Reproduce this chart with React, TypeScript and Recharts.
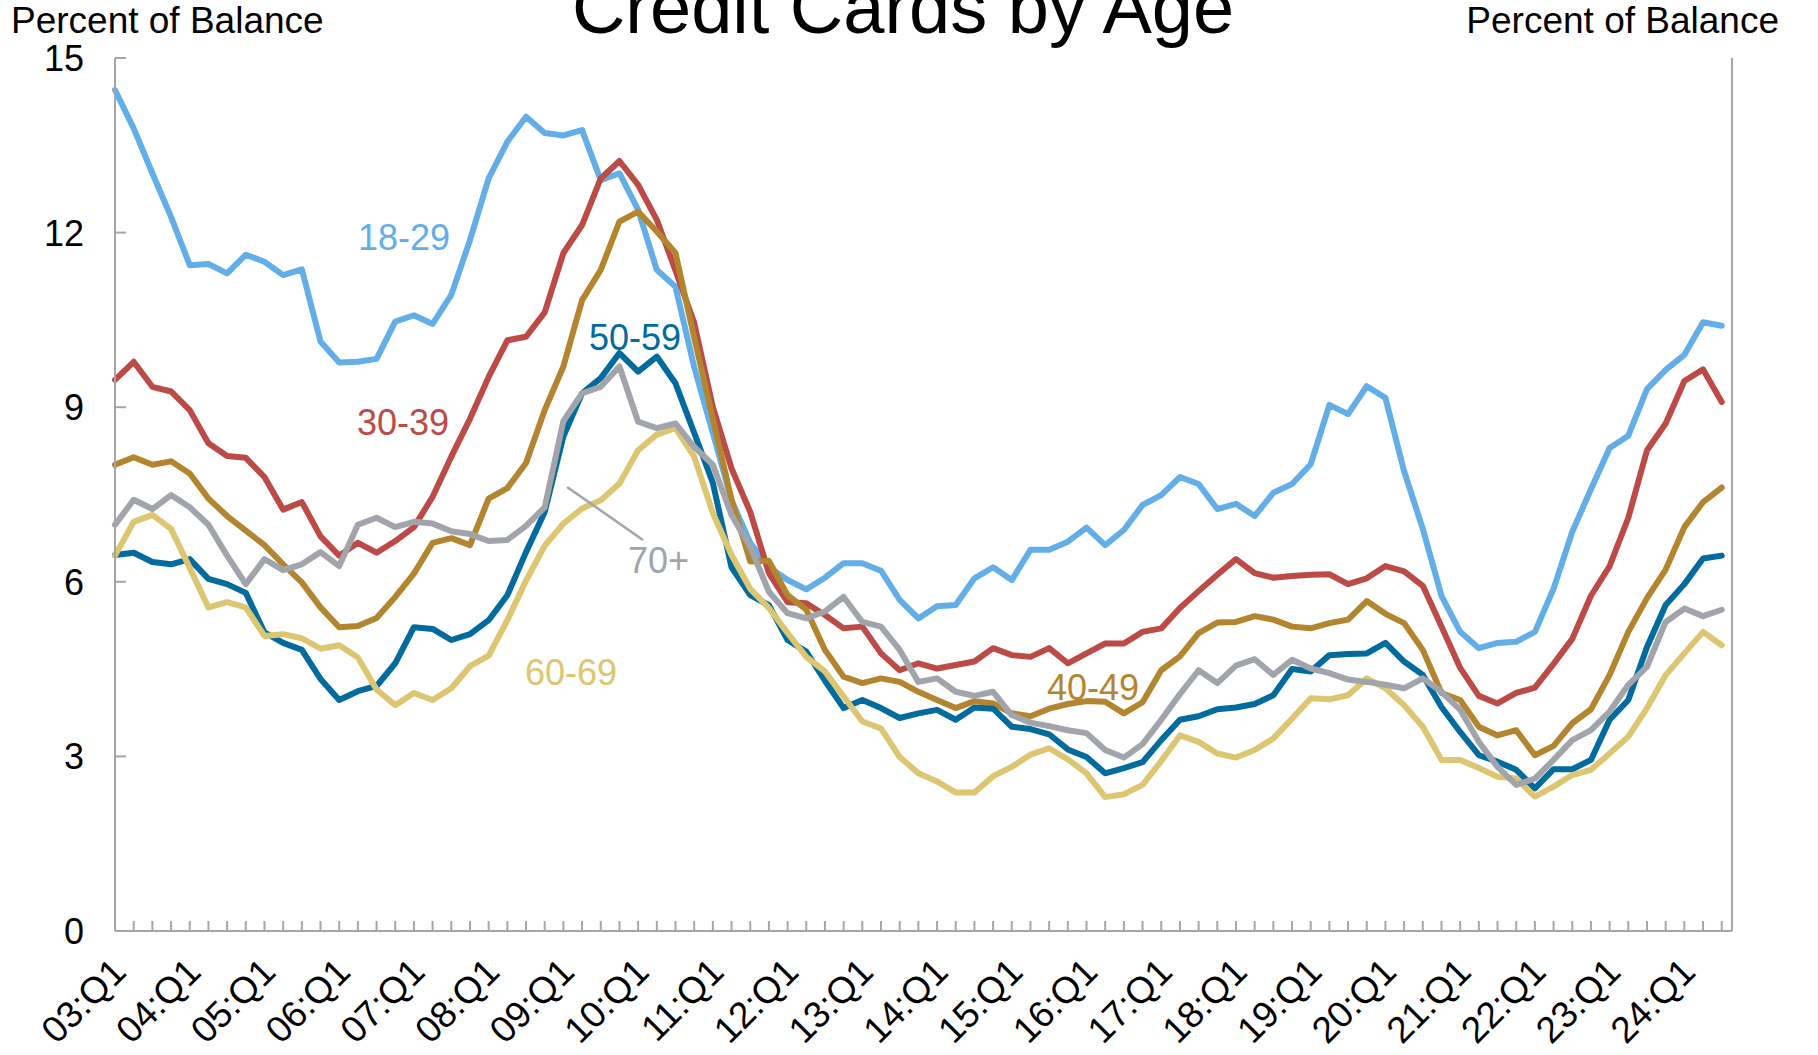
import React from 'react';
import { LineChart, Line, XAxis, YAxis } from 'recharts';

// quarterly, 03:Q1 .. 24:Q3
const tickLabels = [
    '03:Q1', '04:Q1', '05:Q1', '06:Q1', '07:Q1', '08:Q1', '09:Q1', '10:Q1',
    '11:Q1', '12:Q1', '13:Q1', '14:Q1', '15:Q1', '16:Q1', '17:Q1', '18:Q1',
    '19:Q1', '20:Q1', '21:Q1', '22:Q1', '23:Q1', '24:Q1',
];

const age1829 = [
    14.45, 13.79, 13.02, 12.27, 11.44, 11.46, 11.3, 11.62, 11.5, 11.27,
    11.37, 10.13, 9.77, 9.78, 9.83, 10.47, 10.58, 10.43, 10.93, 11.87,
    12.93, 13.56, 13.99, 13.71, 13.67, 13.76, 12.9, 13.02, 12.39, 11.36,
    11.07, 9.69, 8.56, 7.4, 6.67, 6.25, 6.03, 5.87, 6.07, 6.32,
    6.32, 6.19, 5.69, 5.37, 5.58, 5.6, 6.06, 6.25, 6.03, 6.55,
    6.55, 6.69, 6.93, 6.63, 6.89, 7.32, 7.49, 7.8, 7.68, 7.25,
    7.34, 7.13, 7.53, 7.68, 8.02, 9.04, 8.88, 9.36, 9.16, 7.9,
    6.91, 5.76, 5.14, 4.86, 4.95, 4.97, 5.14, 5.88, 6.86, 7.59,
    8.3, 8.51, 9.31, 9.64, 9.9, 10.46, 10.4,
];

const age3039 = [
    9.47, 9.78, 9.35, 9.27, 8.95, 8.38, 8.16, 8.13, 7.8, 7.24,
    7.37, 6.78, 6.45, 6.67, 6.5, 6.7, 6.94, 7.46, 8.15, 8.8,
    9.52, 10.15, 10.21, 10.63, 11.65, 12.13, 12.93, 13.23, 12.82, 12.22,
    11.35, 10.45, 9.0, 7.95, 7.2, 6.15, 5.65, 5.63, 5.43, 5.2,
    5.23, 4.77, 4.48, 4.6, 4.51, 4.57, 4.63, 4.86, 4.74, 4.71,
    4.86, 4.6, 4.77, 4.94, 4.94, 5.14, 5.2, 5.55, 5.84, 6.12,
    6.39, 6.15, 6.07, 6.1, 6.12, 6.13, 5.96, 6.06, 6.27, 6.18,
    5.93, 5.23, 4.52, 4.04, 3.91, 4.09, 4.18, 4.59, 5.02, 5.76,
    6.27, 7.1, 8.26, 8.72, 9.45, 9.65, 9.09,
];

const age4049 = [
    8.01, 8.14, 8.01, 8.07, 7.86, 7.43, 7.13, 6.88, 6.63, 6.3,
    5.99, 5.56, 5.22, 5.24, 5.38, 5.74, 6.14, 6.67, 6.75, 6.63,
    7.43, 7.61, 8.04, 8.95, 9.7, 10.84, 11.36, 12.19, 12.36, 12.02,
    11.65, 10.2, 8.8, 7.41, 6.35, 6.36, 5.77, 5.52, 4.83, 4.37,
    4.26, 4.34, 4.28, 4.11, 3.97, 3.83, 3.95, 3.91, 3.74, 3.69,
    3.82, 3.9, 3.95, 3.94, 3.74, 3.93, 4.48, 4.72, 5.12, 5.3,
    5.31, 5.41, 5.35, 5.23, 5.2, 5.29, 5.35, 5.67, 5.45, 5.29,
    4.83, 4.09, 3.97, 3.51, 3.36, 3.45, 3.02, 3.18, 3.57, 3.81,
    4.4, 5.14, 5.72, 6.21, 6.94, 7.37, 7.62,
];

const age5059 = [
    6.46, 6.5, 6.34, 6.3, 6.39, 6.05, 5.96, 5.81, 5.13, 4.95,
    4.83, 4.33, 3.97, 4.12, 4.21, 4.6, 5.22, 5.19, 5.0, 5.1,
    5.34, 5.77, 6.51, 7.2, 8.5, 9.24, 9.5, 9.93, 9.61, 9.87,
    9.41, 8.56, 7.7, 6.25, 5.77, 5.6, 5.0, 4.8, 4.3, 3.83,
    3.97, 3.83, 3.66, 3.74, 3.8, 3.63, 3.84, 3.82, 3.51, 3.47,
    3.38, 3.12, 2.99, 2.71, 2.8, 2.9, 3.28, 3.63, 3.69, 3.81,
    3.84, 3.9, 4.05, 4.5, 4.46, 4.74, 4.76, 4.77, 4.95, 4.63,
    4.4, 3.85, 3.42, 3.02, 2.91, 2.77, 2.45, 2.78, 2.78, 2.94,
    3.63, 3.97, 4.88, 5.6, 5.96, 6.4, 6.45,
];

const age6069 = [
    6.45, 7.03, 7.15, 6.91, 6.24, 5.56, 5.65, 5.56, 5.07, 5.1,
    5.03, 4.85, 4.91, 4.7, 4.15, 3.88, 4.09, 3.97, 4.17, 4.55,
    4.73, 5.34, 6.02, 6.62, 7.0, 7.26, 7.4, 7.69, 8.26, 8.53,
    8.64, 8.15, 7.18, 6.46, 5.88, 5.55, 5.12, 4.71, 4.46, 4.03,
    3.6, 3.48, 2.99, 2.71, 2.57, 2.38, 2.38, 2.66, 2.82, 3.03,
    3.14, 2.95, 2.71, 2.3, 2.35, 2.51, 2.92, 3.36, 3.25, 3.05,
    2.98, 3.11, 3.31, 3.65, 4.0, 3.98, 4.05, 4.34, 4.17, 3.88,
    3.51, 2.94, 2.94, 2.8, 2.65, 2.62, 2.31, 2.48, 2.68, 2.77,
    3.05, 3.34, 3.83, 4.4, 4.77, 5.14, 4.91,
];

const age70plus = [
    6.98, 7.41, 7.25, 7.49, 7.28, 6.98, 6.45, 5.96, 6.39, 6.2,
    6.3, 6.51, 6.27, 6.98, 7.1, 6.94, 7.03, 7.0, 6.87, 6.82,
    6.7, 6.72, 6.96, 7.28, 8.76, 9.24, 9.35, 9.7, 8.75, 8.64,
    8.72, 8.32, 8.01, 7.15, 6.6, 5.83, 5.46, 5.37, 5.49, 5.74,
    5.31, 5.23, 4.83, 4.28, 4.34, 4.11, 4.04, 4.11, 3.71, 3.58,
    3.52, 3.45, 3.4, 3.11, 2.98, 3.21, 3.63, 4.07, 4.48, 4.26,
    4.56, 4.67, 4.4, 4.66, 4.51, 4.43, 4.32, 4.28, 4.23, 4.17,
    4.34, 4.11, 3.8, 3.25, 2.82, 2.51, 2.62, 2.94, 3.28, 3.45,
    3.77, 4.23, 4.54, 5.31, 5.54, 5.41, 5.52,
];

const yTicks = [0, 3, 6, 9, 12, 15];

const COLORS = {
    a1829: '#64aee8',
    a3039: '#bc4a46',
    a4049: '#b3852e',
    a5059: '#006b9c',
    a6069: '#ddc672',
    a70: '#a1a4aa',
};

const AXIS = '#a6a6a6';
const FONT = '"Liberation Sans", Arial, Helvetica, sans-serif';

const data = age1829.map((v, i) => ({
    i,
    a1829: v,
    a3039: age3039[i],
    a4049: age4049[i],
    a5059: age5059[i],
    a6069: age6069[i],
    a70: age70plus[i],
}));

const xTicks = data.map((d) => d.i);

const XTick = (props: any) => {
    const { x, y, payload } = props;
    const i = payload.value;
    const label = i % 4 === 0 ? tickLabels[i / 4] : null;
    const ax = x + 13;
    const ay = y + 43;
    return (
        <g>
            {i > 0 && <line x1={x} y1={y} x2={x} y2={y - 10} stroke={AXIS} strokeWidth={2} />}
            {label && (
                <text x={ax} y={ay} transform={`rotate(-45 ${ax} ${ay})`} textAnchor="end"
                    fontSize={37} fontFamily={FONT} fill="#000">
                    {label}
                </text>
            )}
        </g>
    );
};

const YTickLeft = (props: any) => {
    const { x, y, payload } = props;
    return (
        <g>
            {payload.value > 0 && <line x1={x} y1={y} x2={x + 11} y2={y} stroke={AXIS} strokeWidth={2} />}
            <text x={x - 31} y={y} dy="0.36em" textAnchor="end" fontSize={36} fontFamily={FONT} fill="#000">
                {payload.value}
            </text>
        </g>
    );
};

const YTickRight = (props: any) => {
    const { x, y, payload } = props;
    return (
        <g>
            {payload.value > 0 && <line x1={x} y1={y} x2={x - 11} y2={y} stroke={AXIS} strokeWidth={2} />}
            <text x={x + 25} y={y} dy="0.36em" textAnchor="start" fontSize={36} fontFamily={FONT} fill="#000">
                {payload.value}
            </text>
        </g>
    );
};

const seriesLabels = [
    { text: '18-29', x: 358, y: 250, color: COLORS.a1829 },
    { text: '30-39', x: 357, y: 435, color: COLORS.a3039 },
    { text: '50-59', x: 589, y: 350, color: COLORS.a5059 },
    { text: '70+', x: 628, y: 573, color: COLORS.a70 },
    { text: '60-69', x: 525, y: 685, color: COLORS.a6069 },
    { text: '40-49', x: 1047, y: 700, color: COLORS.a4049 },
];

export default function App() {
    const axisLine = { stroke: AXIS, strokeWidth: 2 };
    const lineProps = {
        yAxisId: 'left',
        type: 'linear' as const,
        strokeWidth: 6,
        dot: false,
        isAnimationActive: false,
        strokeLinejoin: 'round' as const,
        strokeLinecap: 'round' as const,
    };
    return (
        <div style={{ position: 'absolute', left: 0, top: 0, width: 1818, height: 1055, background: '#fff', overflow: 'hidden' }}>
            <LineChart width={1818} height={1055} data={data}
                margin={{ top: 58, right: 6, bottom: 24, left: 15 }}>
                <XAxis dataKey="i" type="number" domain={[0, 86.55]} ticks={xTicks} interval={0}
                    height={100} tickSize={0} tickMargin={0} tickLine={false} axisLine={axisLine}
                    tick={<XTick />} />
                <XAxis xAxisId="top" dataKey="i" type="number" domain={[0, 86.55]} orientation="top"
                    height={0} tick={false} tickLine={false} axisLine={axisLine} />
                <YAxis yAxisId="left" domain={[0, 15]} ticks={yTicks} interval={0} width={100}
                    tickSize={0} tickMargin={0} tickLine={false} axisLine={axisLine} tick={<YTickLeft />} />
                <YAxis yAxisId="right" orientation="right" domain={[0, 15]} ticks={yTicks} interval={0} width={80}
                    tickSize={0} tickMargin={0} tickLine={false} axisLine={axisLine} tick={<YTickRight />} />
                <Line {...lineProps} dataKey="a1829" stroke={COLORS.a1829} />
                <Line {...lineProps} dataKey="a3039" stroke={COLORS.a3039} />
                <Line {...lineProps} dataKey="a4049" stroke={COLORS.a4049} />
                <Line {...lineProps} dataKey="a5059" stroke={COLORS.a5059} />
                <Line {...lineProps} dataKey="a6069" stroke={COLORS.a6069} />
                <Line {...lineProps} dataKey="a70" stroke={COLORS.a70} />
            </LineChart>

            {/* titles and series labels */}
            <svg width={1818} height={1055} style={{ position: 'absolute', left: 0, top: 0, pointerEvents: 'none' }}
                fontFamily={FONT}>
                <text x={903} y={33} textAnchor="middle" fontSize={74} fill="#000">Credit Cards by Age</text>
                <text x={11} y={33} fontSize={37} fill="#000">Percent of Balance</text>
                <text x={1779} y={33} textAnchor="end" fontSize={37} fill="#000">Percent of Balance</text>
                {seriesLabels.map((l) => (
                    <text key={l.text} x={l.x} y={l.y} fontSize={36} fill={l.color}>{l.text}</text>
                ))}
                <line x1={567} y1={487} x2={643} y2={540} stroke={COLORS.a70} strokeWidth={2.5} />
            </svg>
        </div>
    );
}
